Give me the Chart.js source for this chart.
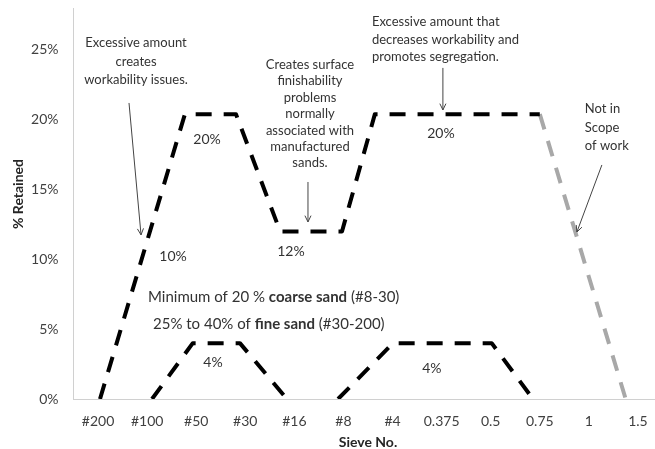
<!DOCTYPE html>
<html><head><meta charset="utf-8">
<script src="https://cdn.jsdelivr.net/npm/chart.js@4/dist/chart.umd.min.js"></script>
<style>html,body{margin:0;padding:0;overflow:hidden;background:#fff;width:655px;height:449px}canvas{display:block}</style>
</head><body><canvas id="c" width="664" height="449"></canvas>
<script>
// ---- data ----
const categories = ['#200','#100','#50','#30','#16','#8','#4','0.375','0.5','0.75','1','1.5'];
const yTicks = [0, 0.05, 0.10, 0.15, 0.20, 0.25];
// x in category-index units along the sieve axis, y as fraction retained
const upperX = [0.04, 1.77, 2.81, 3.71, 4.97, 5.64, 9.0];
const upperY = [0, 0.204, 0.204, 0.12, 0.12, 0.204, 0.204];
const outOfScopeX = [9.0, 10.75];
const outOfScopeY = [0.204, 0];
const fineLowX = [1.1, 1.93, 2.89, 3.85];
const fineLowY = [0, 0.04, 0.04, 0];
const coarseLowX = [4.89, 6.01, 8.02, 8.86];
const coarseLowY = [0, 0.04, 0.04, 0];
const valueLabels = ['20%', '10%', '12%', '20%', '4%', '4%'];
const valueLabelX = [2.22, 1.527, 3.93, 6.986, 2.342, 6.80];
const valueLabelY = [0.1855, 0.1017, 0.1053, 0.1898, 0.0258, 0.0215];

const zip = (xs, ys) => xs.map((x, i) => ({x: x, y: ys[i]}));
const FONT = 'Lato, "Open Sans", sans-serif';

// ---- annotations (text blocks & arrows anchored in data units) ----
const textBlocks = [
  {lines: ['Excessive amount', 'creates', 'workability issues.'], x: 0.774, y: 0.255, lh: 18.5, align: 'center'},
  {lines: ['Creates surface', 'finishability', 'problems', 'normally', 'associated with', 'manufactured', 'sands.'], x: 4.318, y: 0.2393, lh: 16.4, align: 'center'},
  {lines: ['Excessive amount that', 'decreases workability and', 'promotes segregation.'], x: 5.58, y: 0.270, lh: 17.5, align: 'left'},
  {lines: ['Not in', 'Scope', 'of work'], x: 9.918, y: 0.2077, lh: 18.5, align: 'left'}
];
const richLines = [
  {x: 1.018, y: 0.0731, parts: [['Minimum of 20 % ', false], ['coarse sand', true], [' (#8-30)', false]]},
  {x: 1.12, y: 0.0537, parts: [['25% to 40% of ', false], ['fine sand', true], [' (#30-200)', false]]}
];
const arrows = [
  {x1: 0.631, y1: 0.212, x2: 0.876, y2: 0.1175},
  {x1: 4.277, y1: 0.1554, x2: 4.277, y2: 0.1268},
  {x1: 7.026, y1: 0.2371, x2: 7.026, y2: 0.207},
  {x1: 10.265, y1: 0.1676, x2: 9.756, y2: 0.1196}
];
const yTitle = {text: '% Retained', x: 18, yValue: 0.1468};

const annotationPlugin = {
  id: 'annot',
  afterDatasetsDraw(chart) {
    const ctx = chart.ctx, xs = chart.scales.x, ys = chart.scales.y;
    const px = v => xs.getPixelForValue(v), py = v => ys.getPixelForValue(v);
    ctx.save();
    ctx.fillStyle = '#333';
    ctx.textBaseline = 'middle';
    ctx.font = '13px ' + FONT;
    textBlocks.forEach(b => {
      ctx.textAlign = b.align;
      b.lines.forEach((l, i) => ctx.fillText(l, px(b.x), py(b.y) + i * b.lh));
    });
    ctx.textAlign = 'center';
    ctx.font = '14px ' + FONT;
    valueLabels.forEach((t, i) => ctx.fillText(t, px(valueLabelX[i]), py(valueLabelY[i])));
    ctx.textAlign = 'left';
    richLines.forEach(r => {
      let x = px(r.x);
      r.parts.forEach(([t, bold]) => {
        ctx.font = (bold ? 'bold ' : '') + '15px ' + FONT;
        ctx.fillText(t, x, py(r.y));
        x += ctx.measureText(t).width;
      });
    });
    ctx.strokeStyle = '#444';
    ctx.lineWidth = 1;
    arrows.forEach(a => {
      const x1 = px(a.x1), y1 = py(a.y1), x2 = px(a.x2), y2 = py(a.y2);
      ctx.beginPath(); ctx.moveTo(x1, y1); ctx.lineTo(x2, y2); ctx.stroke();
      const ang = Math.atan2(y2 - y1, x2 - x1), L = 7, w = 0.45;
      ctx.beginPath();
      ctx.moveTo(x2 - L * Math.cos(ang - w), y2 - L * Math.sin(ang - w));
      ctx.lineTo(x2, y2);
      ctx.lineTo(x2 - L * Math.cos(ang + w), y2 - L * Math.sin(ang + w));
      ctx.stroke();
    });
    // y-axis title
    ctx.translate(yTitle.x, py(yTitle.yValue));
    ctx.rotate(-Math.PI / 2);
    ctx.textAlign = 'center';
    ctx.fillStyle = '#262626';
    ctx.font = 'bold 14px ' + FONT;
    ctx.fillText(yTitle.text, 0, 0);
    ctx.restore();
  }
};

const lineStyle = (color) => ({
  borderColor: color, borderWidth: 4, borderDash: [16, 12], borderCapStyle: 'butt',
  borderJoinStyle: 'round', pointRadius: 0, tension: 0, fill: false
});

new Chart(document.getElementById('c'), {
  type: 'line',
  data: {
    datasets: [
      Object.assign({data: zip(upperX, upperY)}, lineStyle('#000')),
      Object.assign({data: zip(outOfScopeX, outOfScopeY)}, lineStyle('#a8a8a8')),
      Object.assign({data: zip(fineLowX, fineLowY)}, lineStyle('#000')),
      Object.assign({data: zip(coarseLowX, coarseLowY)}, lineStyle('#000'))
    ]
  },
  options: {
    responsive: false, animation: false, devicePixelRatio: 1,
    layout: {padding: {top: 8, right: 1.5, left: 0, bottom: 0}},
    plugins: {legend: {display: false}, tooltip: {enabled: false}},
    scales: {
      x: {
        type: 'linear', min: -0.5, max: 11.5,
        grid: {display: false, drawTicks: false},
        border: {display: true, color: '#d0d0d0', width: 1},
        afterBuildTicks: s => { s.ticks = categories.map((_, i) => ({value: i})); },
        afterFit: s => { s.height = 50; s.paddingLeft = 0; s.paddingRight = 0; },
        ticks: {autoSkip: false, maxRotation: 0, padding: 14, color: '#404040',
                font: {family: FONT, size: 14}, callback: v => categories[v]},
        title: {display: true, text: 'Sieve No.', color: '#262626',
                font: {family: FONT, size: 14, weight: 'bold', lineHeight: 1}, padding: {top: 0, bottom: 0}}
      },
      y: {
        min: 0, max: 0.28,
        grid: {display: false, drawTicks: false},
        border: {display: true, color: '#d0d0d0', width: 1},
        afterBuildTicks: s => { s.ticks = yTicks.map(v => ({value: v})); },
        afterFit: s => { s.width = 73.5; s.paddingTop = 0; s.paddingBottom = 0; },
        ticks: {padding: 15, color: '#404040', font: {family: FONT, size: 14},
                callback: v => Math.round(v * 100) + '%'},
        title: {display: false}
      }
    }
  },
  plugins: [annotationPlugin]
});
</script></body></html>
